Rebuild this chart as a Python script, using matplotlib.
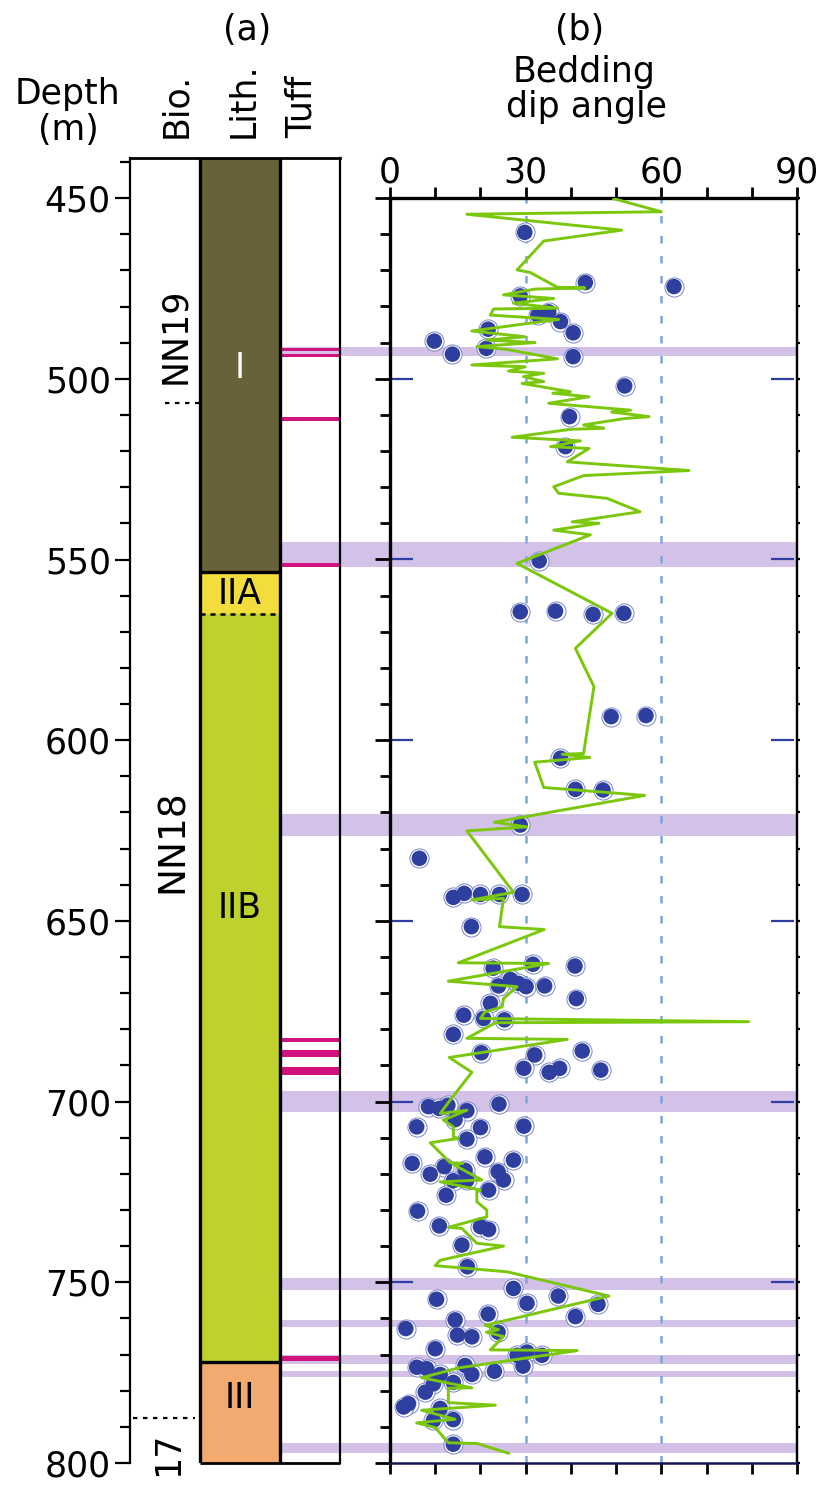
"""
Borehole log: (a) biostratigraphy / lithology / tuff column and
(b) bedding dip angle against depth.
Output: out.png (823 x 1485 px)
"""

import matplotlib
matplotlib.use('Agg')
import matplotlib.pyplot as plt
from matplotlib.ticker import MultipleLocator

plt.rcParams['font.family'] = ['DejaVu Sans']

# ---------------- data ----------------
# lithological units (depth in m)
lith_units = ['I', 'IIA', 'IIB', 'III']
lith_top = [438.9, 553.5, 565.0, 772.0]
lith_base = [553.5, 565.0, 772.0, 800.0]
lith_colors = ['#676239', '#f3dd3c', '#bfd12d', '#f2aa70']
lith_label_depth = [497.0, 559.5, 646.5, 782.0]
lith_label_colors = ['white', 'black', 'black', 'black']

# nannofossil zones
bio_zones = ['NN19', 'NN18', '17']
bio_label_depth = [488.0, 628.0, 797.5]
bio_boundaries = [506.7, 787.6]

# tuff layers
tuff_top = [491.5, 493.2, 510.7, 551.1, 682.5, 685.7, 690.5, 770.3]
tuff_base = [492.4, 494.1, 511.6, 552.0, 683.4, 687.6, 692.6, 771.8]

# shaded horizons
band_top = [491.2, 545.2, 620.4, 697.1, 748.9, 760.5, 770.1, 774.5, 794.4]
band_base = [493.6, 552.2, 626.4, 702.8, 752.1, 762.3, 772.6, 776.1, 797.1]

# bedding dip angle - continuous log (green line)
line_depth = [450.2, 453.8, 454.5, 458.9, 461.9, 469.9, 470.6, 474.7, 474.9, 475.2,
              476.8, 477.8, 479.1, 480.5, 480.7, 482.4, 483.6, 485.1, 486.8, 488.4,
              489.3, 490.0, 491.1, 491.9, 494.5, 496.2, 496.7, 497.9, 498.5, 499.4,
              500.8, 501.3, 503.6, 504.0, 505.0, 506.8, 508.7, 509.2, 510.5, 511.0,
              512.8, 513.7, 514.0, 516.2, 517.2, 518.8, 519.3, 523.0, 525.4, 526.8,
              529.9, 531.7, 533.1, 536.8, 539.6, 540.0, 541.9, 543.2, 551.1, 564.9,
              574.6, 585.2, 603.7, 603.9, 604.8, 606.1, 613.1, 615.3, 622.7, 624.0,
              625.1, 642.1, 644.2, 643.8, 651.6, 652.4, 661.6, 661.8, 666.7, 668.2,
              671.5, 673.8, 675.2, 677.0, 677.9, 678.2, 682.5, 682.8, 687.8, 691.9,
              699.6, 703.3, 702.4, 705.1, 707.0, 709.7, 710.2, 711.4, 716.9, 717.1,
              717.4, 721.7, 722.2, 724.5, 725.0, 727.7, 730.0, 731.9, 734.8, 735.1,
              739.2, 740.0, 743.9, 745.4, 747.1, 753.8, 761.9, 763.1, 763.8, 765.0,
              768.7, 768.9, 773.7, 776.4, 779.2, 779.3, 783.3, 784.0, 785.4, 787.9,
              788.9, 790.2, 794.4, 794.6, 797.3]
line_angle = [49.5, 60.0, 17.0, 51.2, 34.0, 28.1, 31.0, 37.0, 43.1, 32.1,
              25.1, 36.2, 27.3, 37.0, 22.9, 22.2, 37.3, 28.1, 18.1, 29.9,
              21.4, 32.1, 19.2, 25.9, 37.0, 18.1, 29.9, 26.2, 34.0, 29.5,
              34.0, 29.2, 39.9, 36.0, 44.0, 35.1, 53.2, 49.0, 57.3, 52.0,
              42.8, 47.3, 39.9, 27.0, 42.1, 35.5, 44.0, 39.2, 66.1, 42.8,
              36.2, 37.3, 48.0, 55.3, 40.3, 46.2, 36.2, 44.3, 28.1, 49.1,
              41.0, 45.1, 42.8, 38.1, 44.2, 32.0, 34.0, 56.3, 23.1, 30.3,
              17.0, 27.3, 18.1, 25.1, 24.2, 34.1, 15.1, 35.1, 12.9, 28.1,
              25.1, 24.8, 21.0, 20.0, 79.3, 23.3, 17.0, 39.2, 13.1, 18.1,
              13.3, 11.1, 17.0, 11.8, 14.0, 14.0, 15.1, 8.9, 13.3, 16.1,
              14.0, 20.3, 11.1, 20.0, 19.2, 19.2, 21.4, 21.4, 12.9, 15.9,
              19.2, 25.1, 11.1, 10.0, 25.9, 48.4, 21.1, 24.0, 21.3, 25.1,
              22.2, 41.4, 15.1, 7.0, 18.1, 12.9, 12.9, 23.3, 7.0, 14.4,
              5.9, 10.0, 12.9, 19.2, 26.2]

# bedding dip angle - discrete measurements (blue dots)
point_depth = [459.5, 473.4, 474.5, 477.1, 481.5, 482.4, 484.2, 487.3, 486.3, 489.6,
               491.6, 493.2, 493.9, 502.0, 510.5, 518.8, 550.4, 564.5, 564.3, 565.2,
               564.9, 593.5, 593.2, 605.0, 613.6, 613.8, 623.5, 632.7, 643.5, 642.4,
               642.7, 642.7, 642.7, 651.6, 663.1, 662.0, 662.5, 666.2, 668.0, 667.3,
               668.2, 668.0, 671.5, 672.8, 676.1, 677.0, 677.4, 681.4, 686.5, 686.0,
               687.1, 690.8, 690.8, 691.9, 691.3, 701.4, 701.9, 701.0, 702.5, 700.7,
               705.0, 707.0, 707.2, 706.8, 710.4, 715.3, 716.2, 717.1, 718.0, 719.0,
               720.1, 719.4, 721.7, 721.9, 721.7, 724.5, 725.9, 730.3, 734.4, 734.6,
               735.4, 739.7, 745.7, 751.7, 753.8, 754.7, 755.8, 756.1, 758.8, 759.5,
               760.4, 762.8, 763.8, 764.6, 765.1, 768.4, 769.3, 770.2, 770.2, 773.2,
               773.0, 773.5, 773.9, 774.6, 775.5, 775.5, 777.7, 778.1, 780.4, 783.6,
               784.5, 784.9, 788.0, 788.2, 794.8]
point_angle = [29.8, 43.2, 62.8, 28.8, 35.1, 32.7, 37.7, 40.5, 21.7, 9.8,
               21.3, 13.8, 40.5, 51.9, 39.7, 38.8, 33.0, 28.8, 36.6, 44.9,
               51.7, 48.9, 56.6, 37.7, 41.0, 47.1, 28.8, 6.5, 14.0, 16.4,
               20.0, 24.2, 29.2, 18.0, 22.8, 31.6, 40.9, 26.6, 24.0, 28.4,
               30.1, 34.2, 41.2, 22.2, 16.3, 20.7, 25.3, 14.0, 20.2, 42.5,
               32.0, 29.6, 37.5, 35.2, 46.6, 8.5, 10.9, 12.8, 17.0, 24.1,
               14.4, 5.9, 20.0, 29.6, 17.0, 21.0, 27.3, 4.9, 12.0, 16.6,
               8.9, 23.9, 25.1, 14.0, 17.0, 21.8, 12.4, 6.1, 10.9, 20.0,
               21.8, 15.9, 17.1, 27.3, 37.2, 10.3, 30.3, 46.0, 21.7, 41.0,
               14.4, 3.5, 23.9, 14.9, 18.1, 10.0, 30.3, 28.1, 33.6, 29.4,
               16.6, 5.9, 8.1, 23.1, 11.1, 18.1, 14.0, 9.6, 7.8, 4.1,
               3.0, 11.1, 14.0, 9.6, 14.0]

x_ticks = [0, 30, 60, 90]
depth_ticks = [450, 500, 550, 600, 650, 700, 750, 800]

# ---------------- layout ----------------
W, H = 823, 1485
FS = 25
NAVY = '#2e3f9f'
GREEN = '#7ac70c'
BAND = '#d4c1e8'
TUFF = '#d2127f'


def frac(x0, y0, x1, y1):
    # pixel box (top-left origin) -> figure fraction rect
    return [x0 / W, 1 - y1 / H, (x1 - x0) / W, (y1 - y0) / H]


def px(x, y):
    return x / W, 1 - y / H


fig = plt.figure(figsize=(W / 100, H / 100), dpi=100)

# ---- panel (a) ----
ax_a = fig.add_axes(frac(130, 158, 340, 1463))
ax_a.set_xlim(0, 210)
ax_a.set_ylim(800, 438.9)

ax_a.spines['bottom'].set_visible(False)
ax_a.spines['left'].set_linewidth(1.6)
ax_a.spines['top'].set_linewidth(2.0)
ax_a.spines['right'].set_linewidth(1.6)

ax_a.set_xticks([])
ax_a.yaxis.set_minor_locator(MultipleLocator(10))
ax_a.set_yticks(depth_ticks)
ax_a.tick_params(axis='y', which='major', length=10.8, width=1.6, pad=3, labelsize=FS)
ax_a.tick_params(axis='y', which='minor', length=7.2, width=1.6)

# lithology boxes
for top, base, c in zip(lith_top, lith_base, lith_colors):
    ax_a.bar(110, base - top, bottom=top, width=80, color=c, edgecolor='none', zorder=1)
for lab, d, c in zip(lith_units, lith_label_depth, lith_label_colors):
    ax_a.text(110, d, lab, ha='center', va='center', fontsize=FS, color=c, zorder=5)

# lith frame and unit boundaries
ax_a.vlines([70, 150], 438.9, 800, color='black', lw=2.4, zorder=4)
ax_a.hlines(800, 70, 210, color='black', lw=2.0, zorder=4, clip_on=False)
ax_a.hlines([lith_base[0], lith_base[2]], 70, 150, color='black', lw=2.4, zorder=4)
ax_a.hlines(lith_base[1], 70, 150, color='black', lw=1.8, ls=(0, (2, 2)), zorder=4)

# biozones
bio_x = [45, 43, 38]
bio_fs = [FS, FS + 2, FS]
for lab, d, x, f in zip(bio_zones, bio_label_depth, bio_x, bio_fs):
    ax_a.text(x, d, lab, rotation=90, ha='center', va='center', fontsize=f, zorder=5)
ax_a.hlines(bio_boundaries[0], 35, 70, color='black', lw=1.6, ls=(0, (2, 2.5)), zorder=4)
ax_a.hlines(bio_boundaries[1], 3, 65, color='black', lw=1.6, ls=(0, (2, 2.5)), zorder=4)

# shaded horizons: from the tuff column across panel (b)
for top, base in zip(band_top, band_base):
    ax_a.barh((top + base) / 2, 515, height=base - top, left=152, color=BAND,
              edgecolor='none', zorder=0.5, clip_on=False)

# tuff layers
for top, base in zip(tuff_top, tuff_base):
    ax_a.barh((top + base) / 2, 58, height=base - top, left=151, color=TUFF,
              edgecolor='none', zorder=2)

# ---- panel (b) ----
ax_b = fig.add_axes(frac(390, 198, 797, 1463))
ax_b.patch.set_visible(False)
ax_b.set_xlim(0, 90)
ax_b.set_ylim(800, 450)

ax_b.spines['left'].set_linewidth(2.4)
ax_b.spines['top'].set_linewidth(2.4)
ax_b.spines['right'].set_linewidth(1.6)
ax_b.spines['bottom'].set_linewidth(1.8)
ax_b.spines['bottom'].set_color('#141850')

ax_b.set_xticks(x_ticks)
ax_b.xaxis.set_minor_locator(MultipleLocator(10))
ax_b.tick_params(axis='x', which='both', top=True, bottom=True, labeltop=True,
                 labelbottom=False, direction='out', length=8, width=2.0,
                 pad=-2, labelsize=FS)
ax_b.set_yticks(depth_ticks)
ax_b.yaxis.set_minor_locator(MultipleLocator(10))
ax_b.tick_params(axis='y', which='major', length=10.8, width=2.0, labelleft=False)
ax_b.tick_params(axis='y', which='minor', length=7.2, width=2.0)

# short ticks on the right spine
sec = ax_b.secondary_yaxis('right')
sec.set_yticks(list(range(450, 801, 10)))
sec.tick_params(length=2.5, width=1.6, labelright=False)
sec.spines['right'].set_linewidth(1.6)

# inner navy marks at the main depths
inner = depth_ticks[1:-1]
ax_b.hlines(inner, 0, 0.057, transform=ax_b.get_yaxis_transform(), color=NAVY, lw=1.6)
ax_b.hlines(inner, 0.935, 0.993, transform=ax_b.get_yaxis_transform(), color=NAVY, lw=1.6)

# reference lines at 30 and 60 degrees
for v in [30, 60]:
    ax_b.axvline(v, color='#7ea6da', lw=1.8, ls=(0, (3.0, 5.0)), zorder=1)

# measurements
ax_b.scatter(point_angle, point_depth, s=190, facecolor='white', edgecolor='#6573c0',
             linewidth=0.6, zorder=3, clip_on=False)
ax_b.scatter(point_angle, point_depth, s=125, facecolor=NAVY, edgecolor='none',
             zorder=3.5, clip_on=False)
ax_b.plot(line_angle, line_depth, color=GREEN, lw=2.1, zorder=4)

# ---- headers ----
fig.text(*px(247, 30), '(a)', ha='center', va='center', fontsize=FS)
fig.text(*px(580, 30), '(b)', ha='center', va='center', fontsize=FS)
fig.text(*px(584, 72), 'Bedding', ha='center', va='center', fontsize=FS)
fig.text(*px(586, 107), 'dip angle', ha='center', va='center', fontsize=FS)
fig.text(*px(68, 94), 'Depth', ha='center', va='center', fontsize=FS)
fig.text(*px(68, 130), '(m)', ha='center', va='center', fontsize=FS)
for lab, x in [('Bio.', 176), ('Lith.', 244), ('Tuff', 302)]:
    fig.text(*px(x, 138), lab, rotation=90, ha='center', va='bottom', fontsize=FS)

fig.savefig('out.png', dpi=100)
